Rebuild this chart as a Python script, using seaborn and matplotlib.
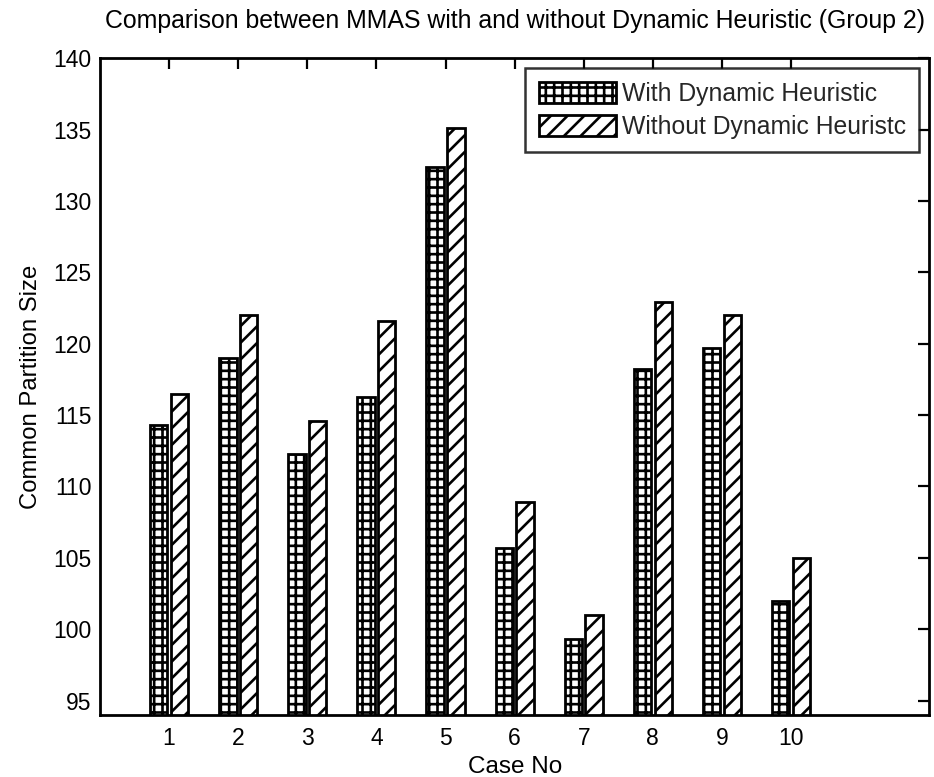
import matplotlib
matplotlib.use("Agg")
import matplotlib.pyplot as plt
import seaborn as sns
import pandas as pd

cases = [1, 2, 3, 4, 5, 6, 7, 8, 9, 10]
with_dh = [114.3, 119.0, 112.3, 116.3, 132.4, 105.7, 99.3, 118.2, 119.7, 102.0]
without_dh = [116.5, 122.0, 114.6, 121.6, 135.1, 108.9, 101.0, 122.9, 122.0, 105.0]
series_names = ["With Dynamic Heuristic", "Without Dynamic Heuristc"]
yticks = [95, 100, 105, 110, 115, 120, 125, 130, 135, 140]

sns.set_theme(style="white")
plt.rcParams['font.family'] = ['Liberation Sans', 'DejaVu Sans']
plt.rcParams['hatch.linewidth'] = 1.9
plt.rcParams['hatch.color'] = 'black'

df = pd.DataFrame({
    "case": cases * 2,
    "value": with_dh + without_dh,
    "series": [series_names[0]] * len(cases) + [series_names[1]] * len(cases),
})

fig = plt.figure(figsize=(9.34, 7.77), dpi=100)
ax = fig.add_axes([0.107, 0.080, 0.888, 0.845])

sns.barplot(data=df, x="case", y="value", hue="series", native_scale=True,
            width=0.6, gap=0.16, ax=ax, palette=["white", "white"],
            edgecolor="black", linewidth=2.0, errorbar=None, legend=True)

hatches = ['++', '//']
for i, cont in enumerate(ax.containers):
    for bar in cont:
        bar.set_hatch(hatches[i])
        bar.set_facecolor('white')
        bar.set_edgecolor('black')

ax.set_xlim(0, 12)
ax.set_ylim(94, 140)
ax.set_xticks(cases)
ax.set_xticklabels([str(c) for c in cases])
ax.set_yticks(yticks)
ax.tick_params(direction='in', length=8, width=1.6, top=True, right=True,
               labelsize=16.5, colors='black')
ax.tick_params(axis='x', pad=9)
ax.tick_params(axis='y', pad=6)
for s in ax.spines.values():
    s.set_color('black')
    s.set_linewidth(2.0)

ax.set_xlabel("Case No", fontsize=17.5, color='black', labelpad=4)
ax.set_ylabel("Common Partition Size", fontsize=17.2, color='black', labelpad=8)
ax.set_title("Comparison between MMAS with and without Dynamic Heuristic (Group 2)",
             fontsize=17.9, color='black', pad=22)

handles, labels = ax.get_legend_handles_labels()
for h, hat in zip(handles, hatches):
    h.set_hatch(hat)
    h.set_facecolor('white')
    h.set_edgecolor('black')
leg = ax.legend(handles, labels, loc='upper right', fontsize=17.8, frameon=True,
                fancybox=False, edgecolor='black', handlelength=3.1,
                handleheight=0.95, handletextpad=0.25, borderaxespad=0.4,
                borderpad=0.55, labelspacing=0.35)
leg.get_frame().set_linewidth(1.8)

fig.savefig("out.png", dpi=100)
